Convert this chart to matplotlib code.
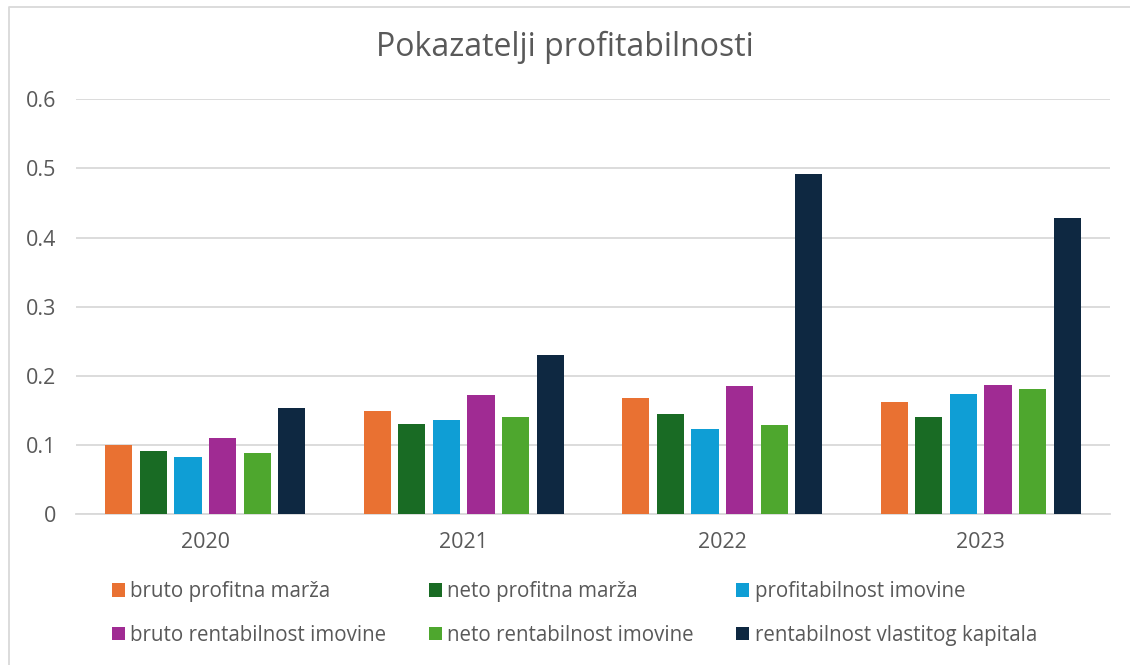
import numpy as np
import matplotlib.pyplot as plt
from matplotlib.lines import Line2D

plt.rcParams['font.family'] = ['Open Sans', 'DejaVu Sans']

years = ['2020', '2021', '2022', '2023']
series_names = ['bruto profitna marža', 'neto profitna marža', 'profitabilnost imovine',
                'bruto rentabilnost imovine', 'neto rentabilnost imovine',
                'rentabilnost vlastitog kapitala']
bruto_profitna = [0.100, 0.149, 0.168, 0.162]
neto_profitna = [0.0915, 0.130, 0.145, 0.140]
profitabilnost_imovine = [0.083, 0.136, 0.123, 0.1735]
bruto_rentabilnost = [0.110, 0.172, 0.1855, 0.1875]
neto_rentabilnost = [0.088, 0.141, 0.129, 0.181]
rentabilnost_kapitala = [0.153, 0.230, 0.492, 0.429]
yticks = [0, 0.1, 0.2, 0.3, 0.4, 0.5, 0.6]
ytick_labels = ['0', '0.1', '0.2', '0.3', '0.4', '0.5', '0.6']

colors = ['#E97132', '#196B24', '#0F9ED5', '#A02B93', '#4EA72E', '#0E2841']
values = [bruto_profitna, neto_profitna, profitabilnost_imovine,
          bruto_rentabilnost, neto_rentabilnost, rentabilnost_kapitala]

text_color = '#595959'
grid_color = '#D9D9D9'

fig = plt.figure(figsize=(11.3, 6.65), dpi=100)
ax = fig.add_axes([76 / 1130, 1 - 514.3 / 665, (1110 - 76) / 1130, (514.3 - 99.3) / 665])

# chart border (only left and top edges visible in the crop)
fig.lines.append(Line2D([8.5 / 1130, 8.5 / 1130, 1.0], [0.0, 1 - 6.5 / 665, 1 - 6.5 / 665],
                        transform=fig.transFigure, color=grid_color, linewidth=1.3))

x = np.arange(len(years))
step = 0.1335
width = 0.1045
handles = []
for i, (vals, c, name) in enumerate(zip(values, colors, series_names)):
    offs = (i - 2.5) * step
    b = ax.bar(x + offs, vals, width, color=c, label=name, zorder=3)
    handles.append(b)

ax.set_xlim(-0.5, 3.5)
ax.set_ylim(0, 0.6)
ax.set_yticks(yticks)
ax.set_yticklabels(ytick_labels)
ax.set_xticks(x)
ax.set_xticklabels(years)
ax.tick_params(axis='both', length=0, labelsize=15.5, labelcolor=text_color)
ax.tick_params(axis='y', pad=14)
ax.tick_params(axis='x', pad=13)
ax.yaxis.grid(True, color=grid_color, linewidth=1.3, zorder=0)
ax.set_axisbelow(True)
for s in ['top', 'right', 'left']:
    ax.spines[s].set_visible(False)
ax.spines['bottom'].set_color(grid_color)
ax.spines['bottom'].set_linewidth(1.3)

fig.text(0.5, 1 - 47 / 665, 'Pokazatelji profitabilnosti', ha='center', va='center',
         fontsize=23, color=text_color)

order = [0, 3, 1, 4, 2, 5]
leg = fig.legend([handles[i] for i in order], [series_names[i] for i in order],
                 ncol=3, loc='upper left', bbox_to_anchor=(112 / 1130, 1 - 581 / 665),
                 frameon=False, fontsize=14.8, labelcolor=text_color,
                 handlelength=0.65, handleheight=0.65, handletextpad=0.25,
                 columnspacing=2.05, labelspacing=1.1, borderpad=0, borderaxespad=0)

fig.savefig('out.png', dpi=100)
